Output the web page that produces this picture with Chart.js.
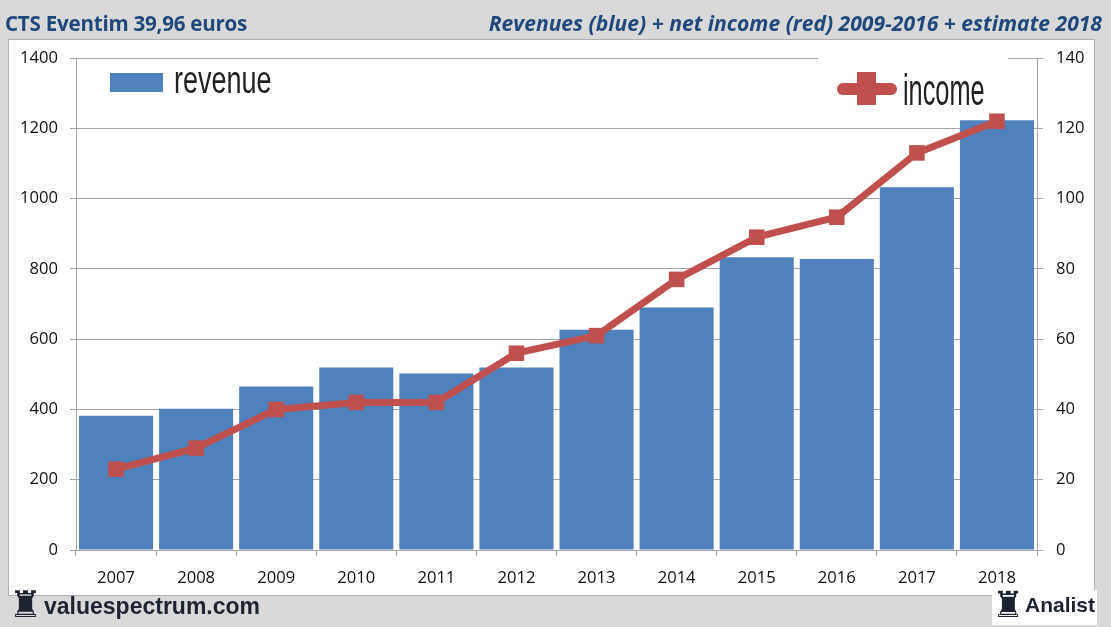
<!DOCTYPE html>
<html><head><meta charset="utf-8">
<style>
html,body{margin:0;padding:0;background:#d9d9d9;width:1111px;height:627px;overflow:hidden}
#panel{position:absolute;left:9px;top:40px;width:1085px;height:555px;background:#fff;box-shadow:0 0 0 1px #b0b0b0}
#wrap{position:absolute;left:0;top:0;width:1111px;height:627px}
.t{position:absolute;white-space:nowrap;font-family:"Open Sans",sans-serif}
#tl{left:5px;top:9px;font-size:20.6px;font-weight:700;color:#1f497d;letter-spacing:-.25px}
#tr{right:9px;top:8px;font-size:21.1px;font-weight:700;font-style:italic;color:#1f497d}
#swatch{position:absolute;left:110px;top:73px;width:53px;height:19px;background:#4f81bd}
#lr{left:174px;top:59px;font-family:"Liberation Sans",sans-serif;font-size:38px;color:#222;transform:scaleX(.71);transform-origin:left}
#incbox{position:absolute;left:818px;top:50px;width:190px;height:60px;background:#fff}
#iline{position:absolute;left:837px;top:83px;width:60px;height:12px;border-radius:6px;background:#c0504d}
#imark{position:absolute;left:857px;top:72px;width:19px;height:33px;background:#c0504d}
#li{left:903px;top:65px;font-family:"Liberation Sans",sans-serif;font-size:44px;color:#222;transform:scaleX(.575);transform-origin:left}
#vs{left:44px;top:593px;font-family:"Liberation Sans",sans-serif;font-weight:700;font-size:23px;color:#1c2331}
.rook{position:absolute;font-family:"DejaVu Sans";color:#1c2331;white-space:nowrap}
#r1{left:9px;top:585px;font-size:37px;line-height:40px}
#anbox{position:absolute;left:992px;top:590px;width:105px;height:35px;background:#fff}
#r2{left:992px;top:585px;font-size:36px;line-height:40px}
#an{left:1025px;top:593px;font-family:"Liberation Sans",sans-serif;font-weight:700;font-size:21px;color:#1c2331}
</style></head><body>
<div id="panel"></div>
<div id="wrap"><canvas id="c" width="1111" height="627"></canvas></div>
<div class="t" id="tl">CTS Eventim 39,96 euros</div>
<div class="t" id="tr">Revenues (blue) + net income (red) 2009-2016 + estimate 2018</div>
<div id="swatch"></div><div class="t" id="lr">revenue</div>
<div id="incbox"></div><div id="iline"></div><div id="imark"></div><div class="t" id="li">income</div>
<div class="rook" id="r1">♜</div><div class="t" id="vs">valuespectrum.com</div>
<div id="anbox"></div><div class="rook" id="r2">♜</div><div class="t" id="an">Analist</div>
<script src="https://cdn.jsdelivr.net/npm/chart.js@4/dist/chart.umd.min.js"></script>
<script>
const years=["2007","2008","2009","2010","2011","2012","2013","2014","2015","2016","2017","2018"];
const revenue=[382,402,465,519,502,519,627,690,833,828,1032,1223];
const income=[23,29,40,42,42,56,61,77,89,94.7,113,122];
const seriesNames=["income","revenue"];
const gridC="#a6a6a6", font={family:"Open Sans",size:16.6}, ink="#111";
const plain=v=>String(v);
new Chart(document.getElementById("c"),{
 type:"bar",
 data:{labels:years,datasets:[
  {type:"line",label:seriesNames[0],data:income,yAxisID:"y2",order:0,borderColor:"#c0504d",backgroundColor:"#c0504d",borderWidth:7,tension:0,pointStyle:"rect",pointRadius:11,pointHoverRadius:11,pointBackgroundColor:"#c0504d",pointBorderColor:"#c0504d",pointBorderWidth:0,borderCapStyle:"round",borderJoinStyle:"round"},
  {type:"bar",label:seriesNames[1],data:revenue,yAxisID:"y",order:1,backgroundColor:"#4f81bd",barPercentage:.925,categoryPercentage:1}
 ]},
 options:{responsive:false,animation:false,events:[],
  layout:{padding:{left:0,right:0,top:58,bottom:0}},
  plugins:{legend:{display:false},tooltip:{enabled:false},title:{display:false}},
  scales:{
   x:{offset:true,grid:{offset:true,drawOnChartArea:false,color:gridC,tickLength:6,drawTicks:true},border:{color:gridC},
      ticks:{color:ink,font:font,padding:12,maxRotation:0},
      afterFit(s){s.height=77}},
   y:{position:"left",min:0,max:1400,grid:{color:gridC,tickLength:6},border:{color:gridC},
      ticks:{stepSize:200,color:ink,font:font,padding:12,callback:plain},
      afterFit(s){s.width=76}},
   y2:{position:"right",min:0,max:140,grid:{drawOnChartArea:false,color:gridC,tickLength:6},border:{color:gridC},
      ticks:{stepSize:20,color:ink,font:font,padding:13,callback:plain},
      afterFit(s){s.width=74}}
  }
 }
});
</script>
</body></html>
